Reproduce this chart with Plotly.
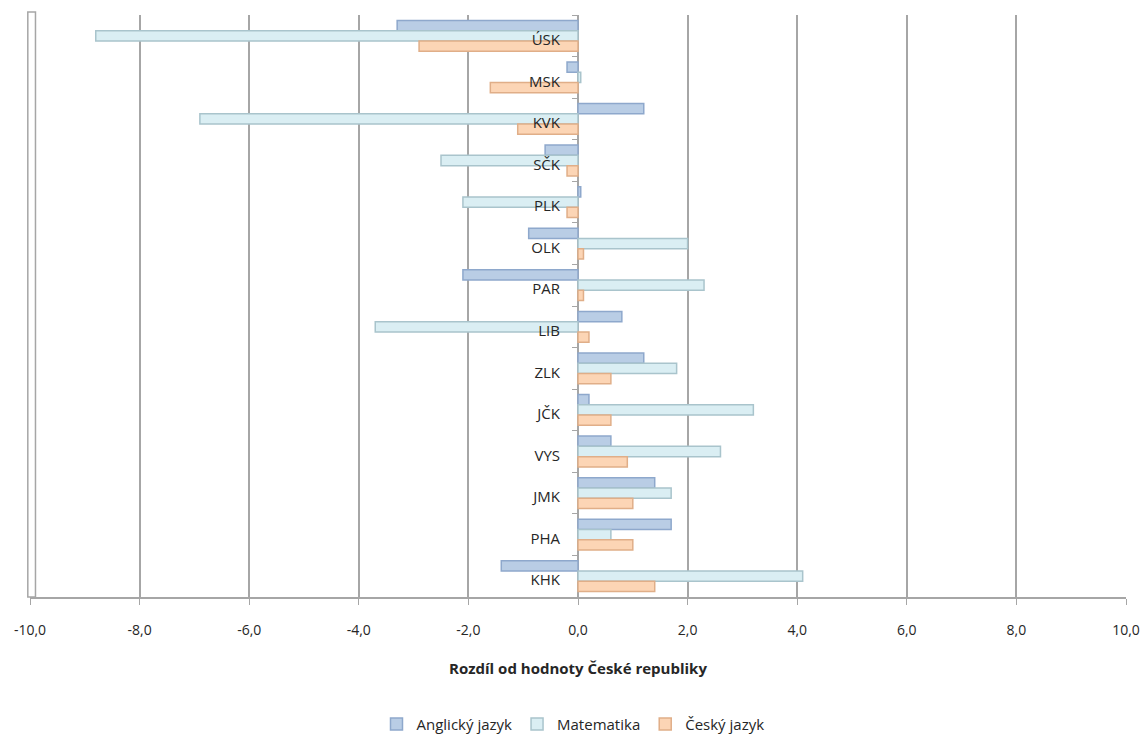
import plotly.graph_objects as go

regions = ["ÚSK", "MSK", "KVK", "SČK", "PLK", "OLK", "PAR", "LIB", "ZLK", "JČK", "VYS", "JMK", "PHA", "KHK"]
anglicky = [-3.3, -0.2, 1.2, -0.6, 0.05, -0.9, -2.1, 0.8, 1.2, 0.2, 0.6, 1.4, 1.7, -1.4]
matematika = [-8.8, 0.05, -6.9, -2.5, -2.1, 2.0, 2.3, -3.7, 1.8, 3.2, 2.6, 1.7, 0.6, 4.1]
cesky = [-2.9, -1.6, -1.1, -0.2, -0.2, 0.1, 0.1, 0.2, 0.6, 0.6, 0.9, 1.0, 1.0, 1.4]

series_names = ["Anglický jazyk", "Matematika", "Český jazyk"]
x_tickvals = [-10, -8, -6, -4, -2, 0, 2, 4, 6, 8, 10]
x_ticktext = ["-10,0", "-8,0", "-6,0", "-4,0", "-2,0", "0,0", "2,0", "4,0", "6,0", "8,0", "10,0"]
x_title = "Rozdíl od hodnoty České republiky"

fills = ["#b9cde5", "#daeef3", "#fcd5b5"]
edges = ["#8ea8cc", "#a9c4cc", "#e0ae88"]

fig = go.Figure()
for name, vals, fc, ec in zip(series_names, [anglicky, matematika, cesky], fills, edges):
    fig.add_trace(go.Bar(
        y=regions, x=vals, name=name, orientation="h",
        marker=dict(color=fc, line=dict(color=ec, width=1.5)),
    ))

fig.update_layout(
    width=1146, height=736,
    paper_bgcolor="white", plot_bgcolor="white",
    margin=dict(l=30, r=20, t=15, b=139, autoexpand=False),
    barmode="group", bargap=0.26, bargroupgap=0.0,
    font=dict(family="Open Sans, Liberation Sans, sans-serif", size=14, color="#262626"),
    showlegend=True,
    legend=dict(orientation="h", x=0.5, xanchor="center", xref="container",
                y=0.016, yanchor="middle", yref="container",
                font=dict(size=15, color="#262626"), itemwidth=30),
    xaxis=dict(
        range=[-10, 10], tickvals=x_tickvals, ticktext=x_ticktext,
        automargin=False,
        showgrid=True, gridcolor="#a6a6a6", gridwidth=2,
        zeroline=True, zerolinecolor="#a6a6a6", zerolinewidth=2,
        showline=True, linecolor="#a6a6a6", linewidth=1.5,
        ticks="outside", ticklen=6, tickcolor="#a6a6a6",
        ticklabelstandoff=13,
        tickfont=dict(size=14, color="#262626"),
        title=dict(text="<b>" + x_title + "</b>", font=dict(size=15, color="#262626"), standoff=26),
    ),
    yaxis=dict(
        type="category", categoryorder="array", categoryarray=regions,
        autorange="reversed",
        anchor="free", position=0.5, automargin=False,
        showgrid=False, showline=False, zeroline=False,
        ticks="outside", tickson="boundaries", ticklen=6, tickcolor="#a6a6a6",
        ticklabelstandoff=18, ticklabelshift=-4,
        tickfont=dict(size=15, color="#262626"),
    ),
)

# left 3D wall edge
fig.add_shape(type="rect", xref="paper", yref="paper", x0=-0.002, x1=0.005, y0=0, y1=1.005,
              line=dict(color="#a6a6a6", width=1.5), fillcolor="rgba(0,0,0,0)")

fig.write_html("out.html", config={"displayModeBar": False},
               post_script="document.body.style.margin='0';document.body.style.overflow='hidden';")
